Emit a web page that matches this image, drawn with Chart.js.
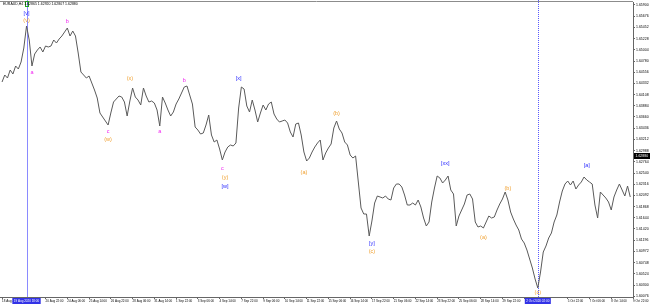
<!DOCTYPE html>
<html>
<head>
<meta charset="utf-8">
<script src="https://cdn.jsdelivr.net/npm/chart.js@4.4.1/dist/chart.umd.min.js"></script>
<style>
  html, body { margin: 0; padding: 0; background: #fff; }
</style>
</head>
<body>
<canvas id="waveChart" width="650" height="304"></canvas>
<script>
// EURAUD H4 closes, one per bar
const closes = [
  1.6436,1.6450,1.6444,1.6460,1.6452,1.6468,1.6462,1.6476,1.6504,1.6548,
  1.6520,1.6468,1.6492,1.6500,1.6506,1.6496,1.6508,1.6506,1.6508,1.6520,
  1.6514,1.6522,1.6528,1.6536,1.6544,1.6528,1.6538,1.6528,1.6494,1.6456,
  1.6450,1.6444,1.6448,1.6434,1.6420,1.6404,1.6374,1.6366,1.6358,1.6350,
  1.6374,1.6396,1.6402,1.6408,1.6406,1.6396,1.6368,1.6398,1.6424,1.6406,
  1.6400,1.6390,1.6424,1.6408,1.6396,1.6398,1.6394,1.6380,1.6348,1.6406,
  1.6394,1.6380,1.6368,1.6376,1.6392,1.6402,1.6414,1.6426,1.6428,1.6410,
  1.6392,1.6346,1.6340,1.6332,1.6334,1.6350,1.6370,1.6330,1.6316,1.6320,
  1.6302,1.6280,1.6296,1.6306,1.6310,1.6308,1.6314,1.6384,1.6426,1.6422,
  1.6388,1.6376,1.6400,1.6380,1.6356,1.6374,1.6390,1.6380,1.6392,1.6396,
  1.6372,1.6362,1.6356,1.6358,1.6360,1.6354,1.6336,1.6326,1.6352,1.6354,
  1.6330,1.6296,1.6278,1.6284,1.6296,1.6306,1.6314,1.6320,1.6280,1.6294,
  1.6304,1.6312,1.6344,1.6358,1.6342,1.6334,1.6316,1.6310,1.6290,1.6284,
  1.6288,1.6236,1.6184,1.6172,1.6172,1.6128,1.6158,1.6194,1.6208,1.6206,
  1.6204,1.6208,1.6202,1.6200,1.6224,1.6232,1.6232,1.6226,1.6210,1.6190,
  1.6190,1.6194,1.6190,1.6200,1.6186,1.6164,1.6148,1.6156,1.6196,1.6224,
  1.6248,1.6244,1.6234,1.6240,1.6248,1.6220,1.6212,1.6148,1.6168,1.6180,
  1.6192,1.6210,1.6212,1.6202,1.6156,1.6146,1.6148,1.6144,1.6156,1.6168,
  1.6164,1.6166,1.6180,1.6192,1.6202,1.6216,1.6200,1.6176,1.6162,1.6150,
  1.6140,1.6122,1.6114,1.6100,1.6082,1.6064,1.6042,1.6024,1.6056,1.6096,
  1.6108,1.6124,1.6134,1.6156,1.6170,1.6196,1.6218,1.6232,1.6238,1.6230,
  1.6238,1.6222,1.6230,1.6236,1.6246,1.6240,1.6236,1.6232,1.6190,1.6164,
  1.6216,1.6210,1.6204,1.6196,1.6180,1.6206,1.6220,1.6232,1.6220,1.6208,
  1.6228,1.6206
];

// time axis labels, one every 8 bars
const timeLabels = [
  '18 Aug 2020','19 Aug 14:00','20 Aug 22:00','24 Aug 06:00','25 Aug 14:00',
  '26 Aug 22:00','28 Aug 06:00','31 Aug 14:00','1 Sep 22:00','3 Sep 06:00',
  '4 Sep 14:00','7 Sep 22:00','9 Sep 06:00','10 Sep 14:00','11 Sep 22:00',
  '15 Sep 06:00','16 Sep 14:00','17 Sep 22:00','21 Sep 06:00','22 Sep 14:00',
  '23 Sep 22:00','25 Sep 06:00','28 Sep 14:00','29 Sep 22:00','1 Oct 06:00',
  '2 Oct 14:00','5 Oct 22:00','7 Oct 06:00','8 Oct 14:00','9 Oct 22:00'
];
const barsPerLabel = 8;

// price scale labels
const priceTicks = [
  1.65900,1.65676,1.65452,1.65228,1.65004,1.64780,1.64556,1.64332,1.64108,
  1.63884,1.63660,1.63436,1.63212,1.62988,1.62764,1.62540,1.62316,1.62092,
  1.61868,1.61644,1.61420,1.61196,1.60972,1.60748,1.60524,1.60300,1.60076
];

const symbolName = 'EURAUD,H4';
const lastOHLC = [1.62865, 1.62920, 1.62807, 1.62880];

// vertical markers (bar index + time text)
const markerBars = [9, 197];
const markerTimes = ['19 Aug 2020 18:00', '2 Oct 2020 02:00'];

// wave labels by degree
const minorText  = ['a', 'b', 'c', 'a', 'b', 'c'];
const minorBars  = [11, 24, 39, 58, 67, 81];
const minorPrice = [1.6456, 1.6558, 1.6338, 1.6338, 1.6440, 1.6264];

const interText  = ['(v)', '(w)', '(x)', '(y)', '(a)', '(b)', '(c)', '(a)', '(b)', '(c)'];
const interBars  = [9, 39, 47, 82, 111, 123, 136, 177, 186, 197];
const interPrice = [1.6560, 1.6322, 1.6444, 1.6246, 1.6256, 1.6374, 1.6098, 1.6126, 1.6224, 1.6016];

const primText  = ['[v]', '[w]', '[x]', '[y]', '[xx]', '[a]'];
const primBars  = [9, 82, 87, 136, 163, 215];
const primPrice = [1.6574, 1.6228, 1.6444, 1.6114, 1.6274, 1.6270];

const FONT = "'Liberation Sans', Arial, sans-serif";
const tinyFont = 3.5;
const timeFont = 3;

function nearMarker(bar) {
  return markerBars.some(m => Math.abs(bar - m) <= 5.5);
}

const overlay = {
  id: 'mt4Overlay',
  beforeDatasetsDraw(chart) {
    const { ctx, chartArea: a, scales: { x } } = chart;
    ctx.save();
    // frame top line
    ctx.strokeStyle = '#8c8c8c';
    ctx.lineWidth = 1;
    ctx.beginPath();
    ctx.moveTo(0, a.top - 0.5);
    ctx.lineTo(a.right, a.top - 0.5);
    ctx.stroke();
    // vertical markers
    markerBars.forEach((b, i) => {
      const px = Math.round(x.getPixelForValue(b)) + 0.5;
      ctx.strokeStyle = i === 0 ? '#8a8aff' : '#5a5aff';
      ctx.setLineDash(i === 0 ? [] : [1, 1]);
      ctx.beginPath();
      ctx.moveTo(px, 0);
      ctx.lineTo(px, a.bottom);
      ctx.stroke();
    });
    ctx.setLineDash([]);
    ctx.restore();
  },
  afterDraw(chart) {
    const { ctx, chartArea: a, scales: { x, y } } = chart;
    ctx.save();
    ctx.textAlign = 'center';
    ctx.textBaseline = 'middle';
    ctx.font = '5.5px ' + FONT;
    const groups = [
      [minorText, minorBars, minorPrice, '#f020f0'],
      [interText, interBars, interPrice, '#f0a030'],
      [primText, primBars, primPrice, '#2b2bff']
    ];
    groups.forEach(([t, b, p, col]) => {
      ctx.fillStyle = col;
      t.forEach((s, i) => ctx.fillText(s, x.getPixelForValue(b[i]), y.getPixelForValue(p[i])));
    });

    // little anchor box on first marker
    const m0 = Math.round(x.getPixelForValue(markerBars[0]));
    ctx.strokeStyle = '#20a020';
    ctx.lineWidth = 1;
    ctx.strokeRect(m0 - 1.5, 1.5, 3, 5);

    // title
    ctx.textAlign = 'left';
    ctx.fillStyle = '#000';
    ctx.font = tinyFont + 'px ' + FONT;
    ctx.fillText(symbolName + ' ' + lastOHLC.map(v => v.toFixed(5)).join(' '), 3, 4);

    // bid label on price axis
    const by = y.getPixelForValue(lastOHLC[3]);
    ctx.fillStyle = '#000';
    ctx.fillRect(a.right + 1, by - 3, chart.width - a.right - 1, 6);
    ctx.fillStyle = '#fff';
    ctx.fillText(lastOHLC[3].toFixed(5), a.right + 2.5, by);

    // marker time boxes on time axis
    ctx.font = timeFont + 'px ' + FONT;
    markerBars.forEach((b, i) => {
      const px = x.getPixelForValue(b);
      const w = ctx.measureText(markerTimes[i]).width + 3;
      ctx.fillStyle = '#3232e6';
      ctx.fillRect(px - w / 2, a.bottom + 1, w, chart.height - a.bottom - 1);
      ctx.fillStyle = '#fff';
      ctx.textAlign = 'center';
      ctx.fillText(markerTimes[i], px, a.bottom + 4);
    });
    ctx.restore();
  }
};

const ctx = document.getElementById('waveChart').getContext('2d');
const chart = new Chart(ctx, {
  type: 'line',
  data: {
    datasets: [{
      data: closes.map((c, i) => ({ x: i, y: c })),
      borderColor: '#5a5a5a',
      borderWidth: 1,
      pointRadius: 0,
      tension: 0,
      fill: false
    }]
  },
  options: {
    responsive: false,
    devicePixelRatio: 1,
    animation: false,
    layout: { padding: { top: 2, left: 0, right: 0, bottom: 0 } },
    plugins: { legend: { display: false }, tooltip: { enabled: false } },
    scales: {
      x: {
        type: 'linear',
        min: -0.75,
        max: 232,
        afterBuildTicks: s => { s.ticks = timeLabels.map((_, k) => ({ value: k * barsPerLabel })); },
        afterFit: s => { s.height = 7; s.paddingLeft = 0; s.paddingRight = 0; },
        ticks: {
          autoSkip: false,
          maxRotation: 0,
          minRotation: 0,
          align: 'start',
          padding: 0.5,
          color: '#000',
          font: { size: timeFont, family: FONT },
          callback: v => nearMarker(v) ? '' : timeLabels[Math.round(v / barsPerLabel)]
        },
        grid: { drawOnChartArea: false, tickLength: 2, color: '#666' },
        border: { color: '#666' }
      },
      y: {
        position: 'right',
        min: 1.6006,
        max: 1.6596,
        afterBuildTicks: s => { s.ticks = priceTicks.map(v => ({ value: v })); },
        afterFit: s => { s.width = 17; s.paddingTop = 0; s.paddingBottom = 0; },
        ticks: {
          padding: 1,
          color: '#000',
          crossAlign: 'near',
          font: { size: tinyFont, family: FONT },
          callback: v => Number(v).toFixed(5)
        },
        grid: { drawOnChartArea: false, tickLength: 2, color: '#666' },
        border: { color: '#666' }
      }
    }
  },
  plugins: [overlay]
});
</script>
</body>
</html>
